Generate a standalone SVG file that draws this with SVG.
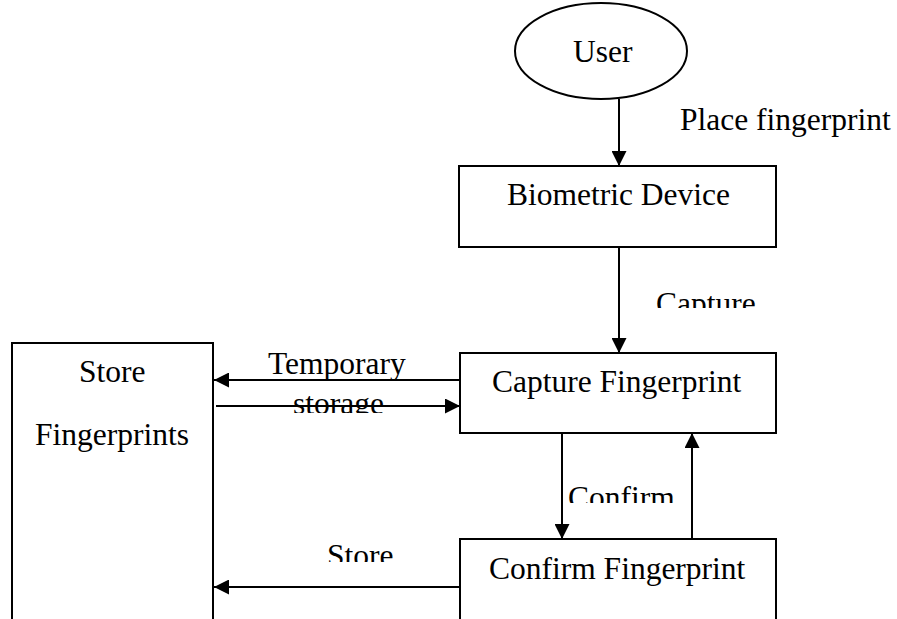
<svg xmlns="http://www.w3.org/2000/svg" width="897" height="619" viewBox="0 0 897 619">
  <style>
    .box { fill: #fff; stroke: #000; stroke-width: 2; }
    .edge { fill: none; stroke: #000; stroke-width: 2; }
    text { font-family: "Liberation Serif", "Times New Roman", serif; font-size: 31.5px; fill: #000; }
  </style>
  <defs>
    <marker id="arrow" viewBox="0 0 15 15" refX="15" refY="7.5" markerWidth="15" markerHeight="15" markerUnits="userSpaceOnUse" orient="auto">
      <path d="M0,0 L15,7.5 L0,15 Z" fill="#000"/>
    </marker>
    <clipPath id="clipCapture"><rect x="640" y="280" width="140" height="28"/></clipPath>
    <clipPath id="clipConfirm"><rect x="560" y="470" width="130" height="33"/></clipPath>
    <clipPath id="clipStore"><rect x="310" y="530" width="100" height="32"/></clipPath>
    <clipPath id="clipStorage"><rect x="280" y="390" width="120" height="23"/></clipPath>
  </defs>
  <rect width="897" height="619" fill="#fff"/>

  <g id="connectors">
    <line class="edge" x1="619" y1="99" x2="619" y2="166" marker-end="url(#arrow)"/>
    <line class="edge" x1="619" y1="247" x2="619" y2="353" marker-end="url(#arrow)"/>
    <line class="edge" x1="460" y1="380" x2="214" y2="380" marker-end="url(#arrow)"/>
    <line class="edge" x1="216" y1="406" x2="460" y2="406" marker-end="url(#arrow)"/>
    <line class="edge" x1="562" y1="433" x2="562" y2="539" marker-end="url(#arrow)"/>
    <line class="edge" x1="692" y1="539" x2="692" y2="433" marker-end="url(#arrow)"/>
    <line class="edge" x1="460" y1="587" x2="214" y2="587" marker-end="url(#arrow)"/>
    <text x="680" y="130">Place fingerprint</text>
    <text x="656" y="314" clip-path="url(#clipCapture)">Capture</text>
    <text x="268" y="374">Temporary</text>
    <text x="293" y="414" clip-path="url(#clipStorage)">storage</text>
    <text x="568" y="508" clip-path="url(#clipConfirm)">Confirm</text>
    <text x="327" y="566" clip-path="url(#clipStore)">Store</text>
  </g>

  <g id="user">
    <ellipse class="box" cx="601" cy="51" rx="86" ry="48"/>
    <text x="573" y="62">User</text>
  </g>

  <g id="biometric-device">
    <rect class="box" x="459" y="166" width="317" height="81"/>
    <text x="507" y="205">Biometric Device</text>
  </g>

  <g id="capture-fingerprint">
    <rect class="box" x="460" y="353" width="316" height="80"/>
    <text x="492" y="392">Capture Fingerprint</text>
  </g>

  <g id="confirm-fingerprint">
    <path class="edge" d="M460,620 V539 H776 V620"/>
    <text x="489" y="579">Confirm Fingerprint</text>
  </g>

  <g id="store-fingerprints">
    <path class="edge" d="M12,620 V343 H213 V620"/>
    <text x="79" y="382">Store</text>
    <text x="35" y="445">Fingerprints</text>
  </g>
</svg>
